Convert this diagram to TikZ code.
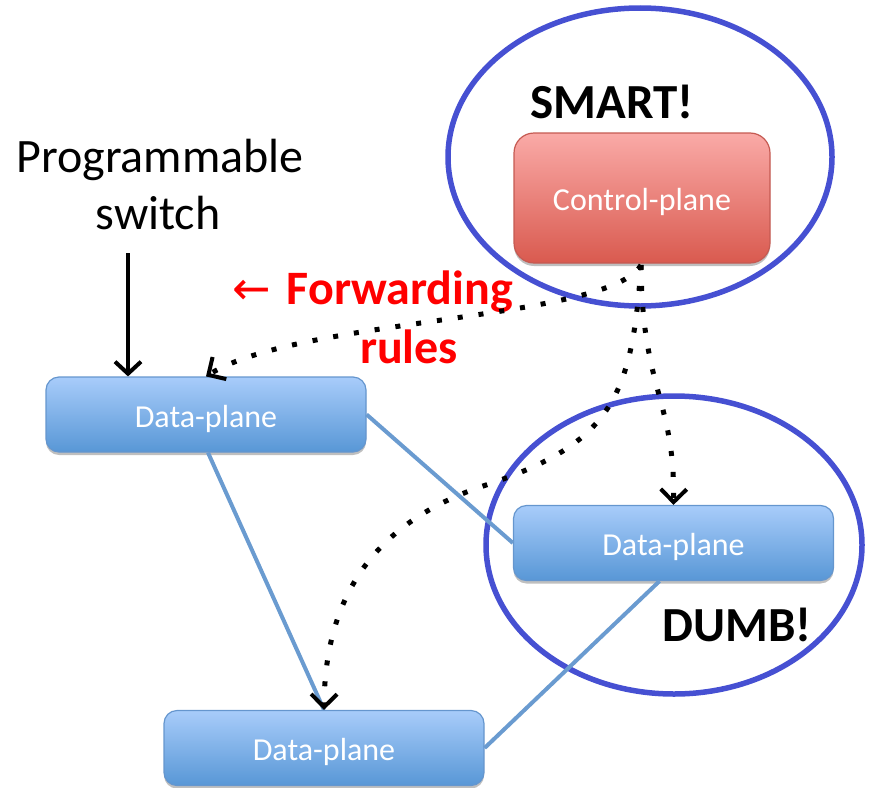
\documentclass[tikz,border=0pt]{standalone}
\usepackage{fontspec}
\setmainfont{Carlito}
\newfontfamily\arrowfont{DejaVu Sans}
\usetikzlibrary{arrows.meta,shadows}
\definecolor{ringblue}{HTML}{4650D2}
\definecolor{linkblue}{HTML}{6A9BD0}
\definecolor{dptop}{HTML}{A8CCFA}
\definecolor{dpbot}{HTML}{5897D6}
\definecolor{dpedge}{HTML}{6596CE}
\definecolor{cptop}{HTML}{FAAAA7}
\definecolor{cpbot}{HTML}{D95A4F}
\definecolor{cpedge}{HTML}{C55A52}
\definecolor{rulered}{HTML}{FF0000}
\begin{document}
\begin{tikzpicture}[x=1pt,y=-1pt,
  boxtext/.style={text=white, font=\fontsize{32}{36}\selectfont,
    text height=25.6pt, text depth=0pt},
  dpbox/.style={rectangle, rounded corners=13pt, draw=dpedge, line width=1.2pt,
    top color=dptop, bottom color=dpbot, minimum width=320pt, minimum height=75pt,
    boxtext,
    drop shadow={shadow xshift=0pt, shadow yshift=-3pt, opacity=0.25, fill=black}},
  cpbox/.style={rectangle, rounded corners=20pt, draw=cpedge, line width=1.2pt,
    top color=cptop, bottom color=cpbot, minimum width=256pt, minimum height=130pt,
    boxtext,
    drop shadow={shadow xshift=0pt, shadow yshift=-3pt, opacity=0.25, fill=black}},
  ring/.style={draw=ringblue, line width=5.5pt},
  link/.style={draw=linkblue, line width=4pt},
  rule/.style={draw=black, line width=5pt, dash pattern=on 5pt off 16pt,
    -{Straight Barb[length=13pt,width=26pt,line width=4pt]}},
  label/.style={font=\fontsize{48}{52}\selectfont, text=black, inner sep=0pt},
  shout/.style={font=\bfseries\fontsize{49}{52}\selectfont, text=black, inner sep=0pt},
  redtext/.style={font=\bfseries\fontsize{48}{52}\selectfont, text=rulered, inner sep=0pt}
]
\useasboundingbox (0,0) rectangle (869,787);

% the two highlight rings
\draw[ring] (640,157) ellipse [x radius=192, y radius=149];
\draw[ring] (674,545) ellipse [x radius=188, y radius=149];

% switches
\node[cpbox] (cp)  at (642,198)   {Control-plane};
\node[dpbox] (dp1) at (206,414.5) {Data-plane};
\node[dpbox] (dp2) at (673.5,543) {Data-plane};
\node[dpbox] (dp3) at (324,748)   {Data-plane};

% physical links between data-plane switches
\draw[link] (dp1.east) -- (dp2.west);
\draw[link] (dp1.south) ++(2,0) -- (dp3.north);
\draw[link] (dp2.south) ++(-14,0) -- (dp3.east);

% labels
\node[label] (prog) at (160,160) {Programmable};
\node[label] (sw)   at (158,213) {switch};
\coordinate (progarrow) at (128,253);
\draw[line width=4pt, -{Straight Barb[length=12pt,width=26pt,line width=4pt]}]
  (progarrow) -- (dp1.north -| progarrow);

\node[shout] (smart) at (612,102) {SMART!};
\node[shout] (dumb)  at (737,625) {DUMB!};

\node[redtext, anchor=west] (fwd) at (232,292)
  {{\arrowfont\mdseries\fontsize{46}{50}\selectfont ←}\hspace{16pt}Forwarding};
\node[redtext] (rules) at (409,347) {rules};

% forwarding rules pushed from the controller
\coordinate (src) at (641,265);
\draw[rule] (src) .. controls (610,320) and (300,318) .. (dp1.north);
\draw[rule] (src) .. controls (642,390) and (675,400) .. (dp2.north);
\draw[rule] (src) .. controls (632,400) and (610,445) .. (480,487)
                  .. controls (380,522) and (325,590) .. (dp3.north);
\end{tikzpicture}
\end{document}
